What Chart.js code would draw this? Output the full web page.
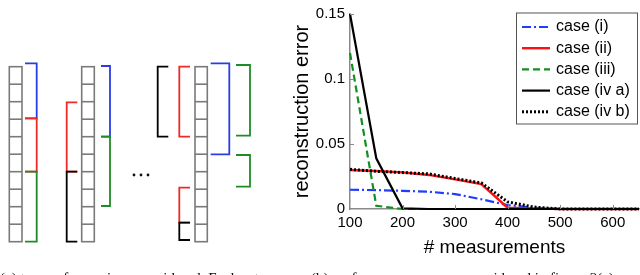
<!DOCTYPE html>
<html>
<head>
<meta charset="utf-8">
<script src="https://cdn.jsdelivr.net/npm/chart.js@4.4.1/dist/chart.umd.min.js"></script>
<style>
  html, body { margin: 0; padding: 0; background: #fff; overflow: hidden; }
  body { width: 640px; height: 275px; position: relative; }
  #diagram { position: absolute; left: 0; top: 0; }
  #plotBox { position: absolute; left: 290px; top: 0; width: 350px; height: 275px; }
  .cap { position: absolute; font-family: "Liberation Serif", "DejaVu Serif", serif; font-size: 15px; line-height: 15px; white-space: nowrap; color: #111; }
</style>
</head>
<body>
<canvas id="diagram" width="290" height="275"></canvas>
<div id="plotBox"><canvas id="plot"></canvas></div>
<div class="cap" style="left:0px; top:271px;">(a) types of groupings considered. Each set</div>
<div class="cap" style="left:311px; top:271px;">(b) performance on cases considered in figure 2(a)</div>
<script>
// values
const measurements = [100, 150, 200, 250, 300, 350, 400, 450, 500, 550, 600, 650];
const caseI   = [0.0148, 0.0145, 0.014, 0.0133, 0.0115, 0.0075, 0.003, 0.001, 0, 0, 0, 0];
const caseII  = [0.030, 0.0292, 0.0282, 0.0262, 0.0228, 0.0192, 0.001, 0.0005, 0, 0, 0, 0];
const caseIII = [0.12, 0.0025, 0, 0, 0, 0, 0, 0, 0, 0, 0, 0];
const caseIVa = [0.15, 0.039, 0.0005, 0, 0, 0, 0, 0, 0, 0, 0, 0];
const caseIVb = [0.0305, 0.029, 0.028, 0.027, 0.0235, 0.020, 0.0055, 0.0015, 0, 0, 0, 0];
const seriesLabels = ['case (i)', 'case (ii)', 'case (iii)', 'case (iv a)', 'case (iv b)'];
const xTicks = [100, 200, 300, 400, 500, 600];
const yTicks = [0, 0.05, 0.1, 0.15];
const yTickLabels = ['0', '0.05', '0.1', '0.15'];

const FONT = '"Liberation Sans", Arial, Helvetica, sans-serif';

// --- left panel: grouping diagram (plain canvas) ---
const columns = [[9.3, 22], [81.7, 94.3], [195, 207.3]];
const brackets = [
  // side, colour, x0, x1, y0, y1
  ['R', '#2a3ce6', 25, 36.7, 63.3, 118.3],
  ['R', '#f02828', 25, 36.7, 118.3, 171.7],
  ['R', '#1e8c28', 25, 36.7, 171.7, 241.7],
  ['L', '#f02828', 66.7, 77.3, 102.3, 171.7],
  ['L', '#000000', 66.7, 77.3, 171.7, 241.7],
  ['R', '#2a3ce6', 101, 110, 66, 136.7],
  ['R', '#1e8c28', 101, 110, 136.7, 206],
  ['L', '#000000', 157.7, 168.3, 66.7, 136.7],
  ['L', '#f02828', 179.3, 190, 66.7, 136.7],
  ['L', '#f02828', 179.3, 190, 187.7, 222.7],
  ['L', '#000000', 179.3, 190, 222.7, 240],
  ['R', '#2a3ce6', 210.7, 229.3, 63.3, 154.3],
  ['R', '#1e8c28', 236, 250, 65, 135.7],
  ['R', '#1e8c28', 236, 250, 155, 186.7]
];

function drawDiagram() {
  const ctx = document.getElementById('diagram').getContext('2d');
  const top = 66.7, cell = 17.5, n = 10;
  ctx.strokeStyle = '#7a7a7a';
  ctx.lineWidth = 1.6;
  columns.forEach(([x0, x1]) => {
    ctx.strokeRect(x0, top, x1 - x0, cell * n);
    for (let i = 1; i < n; i++) {
      ctx.beginPath();
      ctx.moveTo(x0, top + i * cell);
      ctx.lineTo(x1, top + i * cell);
      ctx.stroke();
    }
  });
  ctx.lineWidth = 1.8;
  brackets.forEach(([side, col, x0, x1, y0, y1]) => {
    ctx.strokeStyle = col;
    ctx.beginPath();
    if (side === 'R') {
      ctx.moveTo(x0, y0); ctx.lineTo(x1, y0); ctx.lineTo(x1, y1); ctx.lineTo(x0, y1);
    } else {
      ctx.moveTo(x1, y0); ctx.lineTo(x0, y0); ctx.lineTo(x0, y1); ctx.lineTo(x1, y1);
    }
    ctx.stroke();
  });
  ctx.fillStyle = '#111';
  [134, 141, 148].forEach(x => {
    ctx.beginPath();
    ctx.arc(x, 175, 1.4, 0, Math.PI * 2);
    ctx.fill();
  });
}
drawDiagram();

// --- right panel: chart ---
function pts(values) {
  return measurements.map((m, i) => ({ x: m, y: values[i] }));
}

const styles = [
  { color: '#1f3cff', dash: [9, 3, 2, 3], width: 2.2, order: 4 },
  { color: '#ff1010', dash: [], width: 2.4, order: 3 },
  { color: '#109020', dash: [7, 4], width: 2.2, order: 2 },
  { color: '#000000', dash: [], width: 2.2, order: 1 },
  { color: '#000000', dash: [2, 2], width: 3, order: 0 }
];
const allSeries = [caseI, caseII, caseIII, caseIVa, caseIVb];

const datasets = allSeries.map((vals, i) => ({
  label: seriesLabels[i],
  data: pts(vals),
  borderColor: styles[i].color,
  borderDash: styles[i].dash,
  borderWidth: styles[i].width,
  order: styles[i].order,
  pointRadius: 0,
  tension: 0,
  fill: false,
  clip: false
}));

// inward ticks, like the original figure
const innerTicks = {
  id: 'innerTicks',
  afterDraw(chart) {
    const { ctx, scales: { x, y }, chartArea } = chart;
    ctx.save();
    ctx.strokeStyle = '#8a8a8a';
    ctx.lineWidth = 1;
    yTicks.slice(1).forEach(v => {
      const py = Math.round(y.getPixelForValue(v)) + 0.5;
      ctx.beginPath();
      ctx.moveTo(chartArea.left, py);
      ctx.lineTo(chartArea.left + 4, py);
      ctx.stroke();
    });
    xTicks.slice(1).forEach(v => {
      const px = Math.round(x.getPixelForValue(v)) + 0.5;
      ctx.beginPath();
      ctx.moveTo(px, chartArea.bottom);
      ctx.lineTo(px, chartArea.bottom - 4);
      ctx.stroke();
    });
    ctx.restore();
  }
};

// boxed legend in the upper right corner
const boxLegend = {
  id: 'boxLegend',
  afterDraw(chart) {
    const { ctx } = chart;
    const bx = 226, by = 12.5, bw = 121, bh = 111;
    ctx.save();
    ctx.fillStyle = '#fff';
    ctx.fillRect(bx, by, bw, bh);
    ctx.strokeStyle = '#555';
    ctx.lineWidth = 1;
    ctx.strokeRect(bx + 0.5, by + 0.5, bw, bh);
    ctx.font = '16px ' + FONT;
    ctx.textBaseline = 'middle';
    ctx.fillStyle = '#000';
    chart.data.datasets.forEach((ds, i) => {
      const ry = by + 14.5 + i * 21.2;
      ctx.strokeStyle = ds.borderColor;
      ctx.lineWidth = ds.borderWidth;
      ctx.setLineDash(ds.borderDash);
      ctx.beginPath();
      ctx.moveTo(bx + 6, ry);
      ctx.lineTo(bx + 34, ry);
      ctx.stroke();
      ctx.setLineDash([]);
      ctx.fillText(ds.label, bx + 40, ry);
    });
    ctx.restore();
  }
};

new Chart(document.getElementById('plot'), {
  type: 'line',
  data: { datasets },
  plugins: [innerTicks, boxLegend],
  options: {
    responsive: true,
    maintainAspectRatio: false,
    animation: false,
    layout: { padding: { top: 8, right: 1, left: 0, bottom: 0 } },
    plugins: { legend: { display: false }, tooltip: { enabled: false } },
    scales: {
      x: {
        type: 'linear',
        min: 100,
        max: 650,
        afterBuildTicks: s => { s.ticks = xTicks.map(v => ({ value: v })); },
        afterFit: s => { s.height = 66; },
        grid: { drawOnChartArea: false, drawTicks: false },
        border: { color: '#8a8a8a', width: 1.5 },
        ticks: { padding: 5, color: '#000', font: { family: FONT, size: 15 } },
        title: {
          display: true,
          text: '# measurements',
          color: '#000',
          font: { family: FONT, size: 19 },
          padding: { top: 0, bottom: 15.6 }
        }
      },
      y: {
        min: 0,
        max: 0.15,
        afterBuildTicks: s => { s.ticks = yTicks.map(v => ({ value: v })); },
        afterFit: s => { s.width = 60; },
        grid: { drawOnChartArea: false, drawTicks: false },
        border: { color: '#8a8a8a', width: 1.5 },
        ticks: {
          padding: 5,
          color: '#000',
          font: { family: FONT, size: 15 },
          callback: v => yTickLabels[yTicks.indexOf(v)]
        },
        title: {
          display: true,
          text: 'reconstruction error',
          color: '#000',
          font: { family: FONT, size: 20 },
          padding: { top: 0.5, bottom: 0 }
        }
      }
    }
  }
});
</script>
</body>
</html>
